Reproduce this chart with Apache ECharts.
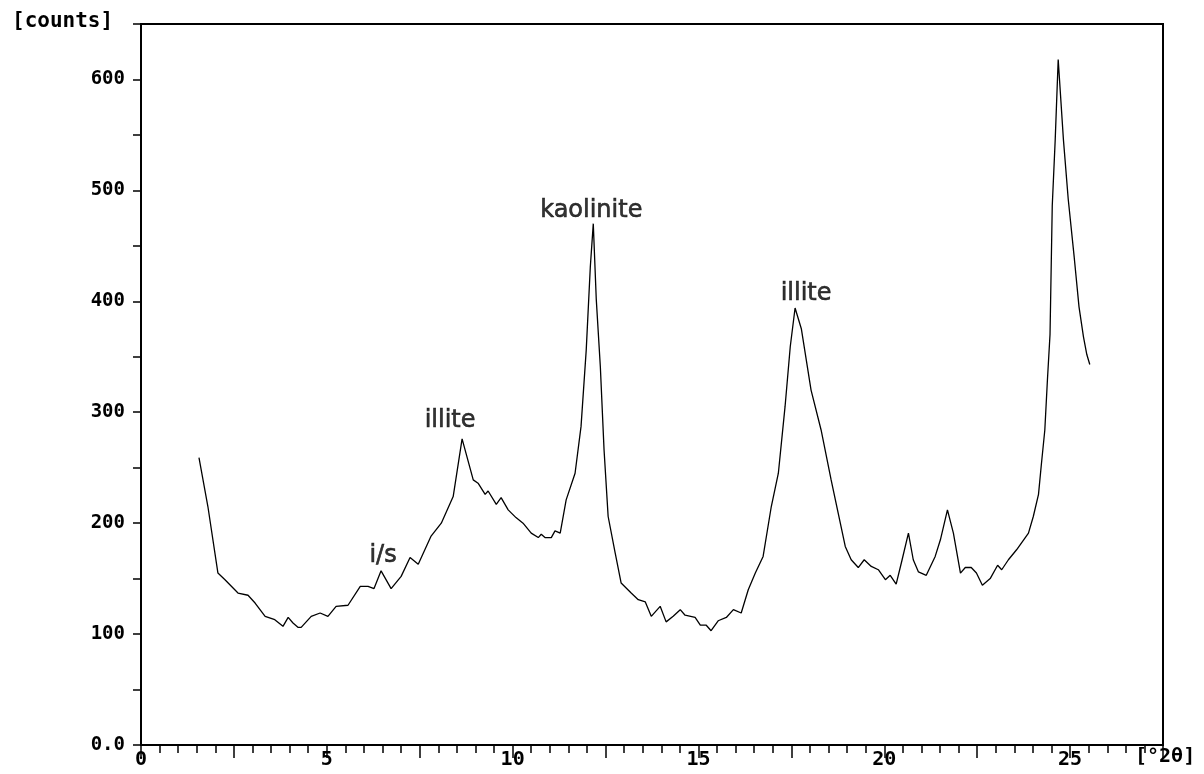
<!DOCTYPE html>
<html>
<head>
<meta charset="utf-8">
<script src="https://cdn.jsdelivr.net/npm/echarts/dist/echarts.min.js"></script>
<style>
  html, body { margin: 0; padding: 0; background: #fff; }
  #chart { width: 1204px; height: 774px; }
</style>
</head>
<body>
<div id="chart"></div>
<script>
// diffractogram trace
const twoTheta = [
  1.56, 1.80, 2.07, 2.26, 2.61, 2.88, 3.07, 3.34, 3.60, 3.82, 3.96, 4.09, 4.23, 4.31,
  4.58, 4.82, 5.03, 5.25, 5.57, 5.90, 6.11, 6.27, 6.46, 6.73, 7.00, 7.24, 7.46, 7.80,
  8.08, 8.40, 8.64, 8.94, 9.07, 9.26, 9.34, 9.56, 9.69, 9.88, 10.09, 10.28, 10.50, 10.69,
  10.77, 10.87, 11.04, 11.14, 11.28, 11.44, 11.68, 11.84, 11.98, 12.09, 12.17, 12.25, 12.36,
  12.46, 12.57, 12.76, 12.92, 13.19, 13.38, 13.57, 13.73, 13.97, 14.13, 14.32, 14.51, 14.64,
  14.91, 15.05, 15.21, 15.34, 15.53, 15.75, 15.94, 16.15, 16.34, 16.53, 16.74, 16.96, 17.15,
  17.33, 17.47, 17.60, 17.77, 18.03, 18.30, 18.57, 18.76, 18.95, 19.11, 19.30, 19.46, 19.65,
  19.84, 20.03, 20.16, 20.32, 20.48, 20.65, 20.78, 20.92, 21.13, 21.37, 21.51, 21.70, 21.86,
  22.05, 22.18, 22.34, 22.48, 22.64, 22.85, 23.05, 23.16, 23.34, 23.56, 23.88, 24.01, 24.15,
  24.23, 24.32, 24.39, 24.46, 24.52, 24.60, 24.68, 24.82, 24.95, 25.11, 25.24, 25.36, 25.45,
  25.53
];
const counts = [
  259, 215, 155, 149, 137, 135, 128, 116, 113, 107, 115, 110, 106, 106,
  116, 119, 116, 125, 126, 143, 143, 141, 157, 141, 152, 169, 163, 188,
  200, 224, 276, 239, 236, 226, 229, 217, 223, 212, 205, 200, 191, 187,
  190, 187, 187, 193, 191, 221, 245, 287, 356, 431, 470, 402, 341,
  266, 206, 173, 146, 137, 131, 129, 116, 125, 111, 116, 122, 117,
  115, 108, 108, 103, 112, 115, 122, 119, 140, 155, 170, 215, 245,
  305, 359, 394, 375, 320, 284, 239, 209, 179, 167, 160, 167, 161,
  158, 149, 153, 145, 167, 191, 167, 156, 153, 170, 185, 212, 191,
  155, 160, 160, 155, 144, 150, 162, 158, 167, 176, 191, 206, 226,
  254, 284, 329, 370, 486, 546, 618, 546, 492, 440, 395, 368, 352,
  343
];

// peak annotations
const peakNames = ['i/s', 'illite', 'kaolinite', 'illite'];
const peakAngles = [6.46, 8.64, 12.17, 17.60];
const peakCounts = [157, 276, 470, 394];

const yTickLabels = { 0: '0.0', 100: '100', 200: '200', 300: '300', 400: '400', 500: '500', 600: '600' };
const xTickLabels = { 0: '0', 5: '5', 10: '10', 15: '15', 20: '20', 25: '25' };

const plotFont = 'DejaVu Sans Mono';
const labelNudge = [[2, -3], [-12, -6], [-2, 0], [11, -2]];

const chart = echarts.init(document.getElementById('chart'));

const option = {
  backgroundColor: '#fff',
  animation: false,
  grid: {
    left: 141, right: 41, top: 24, bottom: 29,
    show: true,
    borderColor: '#000',
    borderWidth: 2
  },
  xAxis: {
    type: 'value',
    min: 0,
    max: 27.5,
    interval: 2.5,
    axisLine: { show: true, lineStyle: { color: '#000', width: 2 } },
    axisTick: { show: true, length: 13, lineStyle: { color: '#000', width: 1.5 } },
    minorTick: { show: true, splitNumber: 5, length: 8, lineStyle: { color: '#000', width: 1.5 } },
    splitLine: { show: false },
    axisLabel: {
      margin: 5,
      color: '#000',
      fontFamily: plotFont,
      fontWeight: 'bold',
      fontSize: 20,
      showMaxLabel: false,
      formatter: v => xTickLabels[v] || ''
    }
  },
  yAxis: {
    type: 'value',
    min: 0,
    max: 650,
    interval: 50,
    axisLine: { show: true, lineStyle: { color: '#000', width: 2 } },
    axisTick: { show: true, length: 8, lineStyle: { color: '#000', width: 1.5 } },
    splitLine: { show: false },
    axisLabel: {
      margin: 16,
      color: '#000',
      fontFamily: plotFont,
      fontWeight: 'bold',
      fontSize: 19,
      formatter: v => yTickLabels[v] || ''
    }
  },
  graphic: [
    {
      type: 'text', left: 12, top: 11,
      style: { text: '[counts]', font: 'bold 21px "DejaVu Sans Mono"', fill: '#000' }
    },
    {
      type: 'text', left: 1135, top: 747,
      style: { text: '[°2θ]', font: 'bold 20px "DejaVu Sans Mono"', fill: '#000' }
    }
  ],
  series: [
    {
      name: 'trace',
      type: 'line',
      data: twoTheta.map((t, i) => [t, counts[i]]),
      showSymbol: false,
      smooth: false,
      lineStyle: { color: '#000', width: 1.3 }
    },
    {
      name: 'peaks',
      type: 'scatter',
      symbolSize: 1,
      itemStyle: { color: 'transparent' },
      data: peakNames.map((n, i) => ({
        name: n,
        value: [peakAngles[i], peakCounts[i]],
        label: { offset: labelNudge[i] }
      })),
      label: {
        show: true,
        position: 'top',
        distance: 0,
        formatter: p => p.name,
        color: '#000',
        textBorderColor: '#000',
        textBorderWidth: 0.6,
        fontFamily: 'DejaVu Sans',
        fontSize: 24
      }
    }
  ]
};

chart.setOption(option);
</script>
</body>
</html>
